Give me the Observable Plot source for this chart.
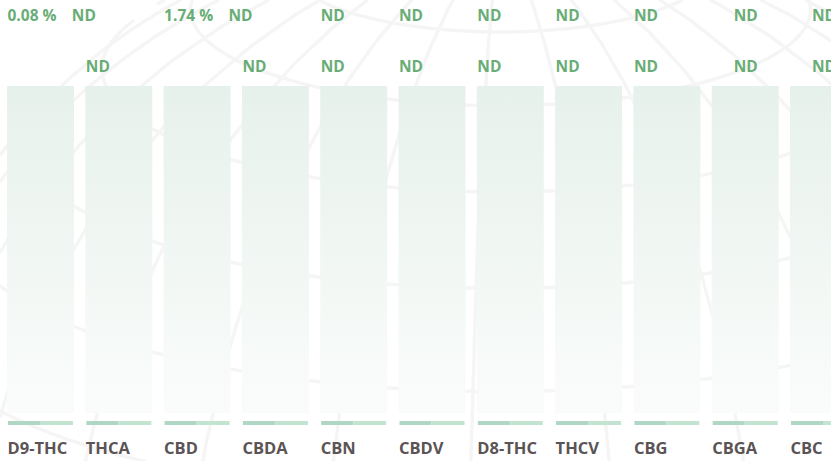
<!DOCTYPE html>
<html>
<head>
<meta charset="utf-8">
<script src="https://cdn.jsdelivr.net/npm/d3@7"></script>
<script src="https://cdn.jsdelivr.net/npm/@observablehq/plot@0.6"></script>
<style>
  html, body { margin: 0; padding: 0; background: #ffffff; overflow: hidden; }
  #wrap { position: relative; width: 831px; height: 461px; overflow: hidden; font-family: "Open Sans", sans-serif; }
  #bg, #chart { position: absolute; left: 0; top: 0; }
</style>
</head>
<body>
<div id="wrap"><div id="bg"></div><div id="chart"></div></div>
<script>
// ---- data ----
const categories = ["D9-THC", "THCA", "CBD", "CBDA", "CBN", "CBDV", "D8-THC", "THCV", "CBG", "CBGA", "CBC"];
const percentLabels = ["0.08 %", "ND", "1.74 %", "ND", "ND", "ND", "ND", "ND", "ND", "ND", "ND"];
const mgLabels = ["", "ND", "", "ND", "ND", "ND", "ND", "ND", "ND", "ND", "ND"];
const centeredLabels = ["CBGA", "CBC"];

const rows = categories.map((c, i) => ({
  category: c,
  pct: percentLabels[i],
  mg: mgLabels[i],
  follows: i > 0 && percentLabels[i - 1].includes("%"),
  centered: centeredLabels.includes(c)
}));

const green = "#69ad76";
const grey = "#5b5455";

// ---- decorative globe behind ----
const globe = Plot.plot({
  width: 831,
  height: 461,
  margin: 0,
  projection: () => d3.geoOrthographic().rotate([-3, -18, 0]).scale(620).translate([500, 520]),
  marks: [
    Plot.geo(d3.geoGraticule().step([14, 10])(), {stroke: "#000", strokeOpacity: 0.04, strokeWidth: 3.5})
  ],
  style: {background: "transparent"}
});
document.getElementById("bg").append(globe);

// gradient defs mark
const defs = () => {
  const d = d3.create("svg:defs");
  const g = d.append("linearGradient").attr("id", "trackGrad").attr("x1", 0).attr("y1", 0).attr("x2", 0).attr("y2", 1);
  g.append("stop").attr("offset", "0%").attr("stop-color", "#e7f1eb");
  g.append("stop").attr("offset", "100%").attr("stop-color", "#fafcfb");
  return d.node();
};

const txt = {fontFamily: "Open Sans", fontWeight: 700};

const chart = Plot.plot({
  width: 870,
  height: 461,
  marginLeft: 7,
  marginRight: 13,
  marginTop: 86,
  marginBottom: 48,
  x: {domain: categories, type: "band", paddingInner: 0.1443, paddingOuter: 0, round: false, axis: null},
  y: {domain: [0, 1], axis: null},
  style: {background: "transparent", maxWidth: "none", overflow: "visible"},
  marks: [
    defs,
    Plot.barY(rows, {x: "category", y: () => 1, fill: "url(#trackGrad)"}),
    Plot.barY(rows, {x: "category", y1: 0, y2: 0, insetTop: 8, insetBottom: -12, insetLeft: 1, insetRight: 34, fill: "#b0d7c3"}),
    Plot.barY(rows, {x: "category", y1: 0, y2: 0, insetTop: 8, insetBottom: -12, insetLeft: 33, insetRight: 1, fill: "#c2e4d0"}),
    // row 1 (percent)
    Plot.text(rows.filter(d => !d.centered && !d.follows), {x: "category", text: "pct", frameAnchor: "top", lineAnchor: "bottom", dy: -66, dx: -33.5, textAnchor: "start", fill: green, fontSize: 15.5, ...txt}),
    Plot.text(rows.filter(d => d.follows), {x: "category", text: "pct", frameAnchor: "top", lineAnchor: "bottom", dy: -66, dx: -47.5, textAnchor: "start", fill: green, fontSize: 15.5, ...txt}),
    Plot.text(rows.filter(d => d.centered), {x: "category", text: "pct", frameAnchor: "top", lineAnchor: "bottom", dy: -66, textAnchor: "middle", fill: green, fontSize: 15.5, ...txt}),
    // row 2 (mg)
    Plot.text(rows.filter(d => !d.centered), {x: "category", text: "mg", frameAnchor: "top", lineAnchor: "bottom", dy: -15, dx: -33.5, textAnchor: "start", fill: green, fontSize: 15.5, ...txt}),
    Plot.text(rows.filter(d => d.centered), {x: "category", text: "mg", frameAnchor: "top", lineAnchor: "bottom", dy: -15, textAnchor: "middle", fill: green, fontSize: 15.5, ...txt}),
    // category labels
    Plot.text(rows, {x: "category", text: "category", frameAnchor: "bottom", lineAnchor: "bottom", dy: 40, dx: -33.5, textAnchor: "start", fill: grey, fontSize: 16.5, ...txt})
  ]
});
document.getElementById("chart").append(chart);
</script>
</body>
</html>
